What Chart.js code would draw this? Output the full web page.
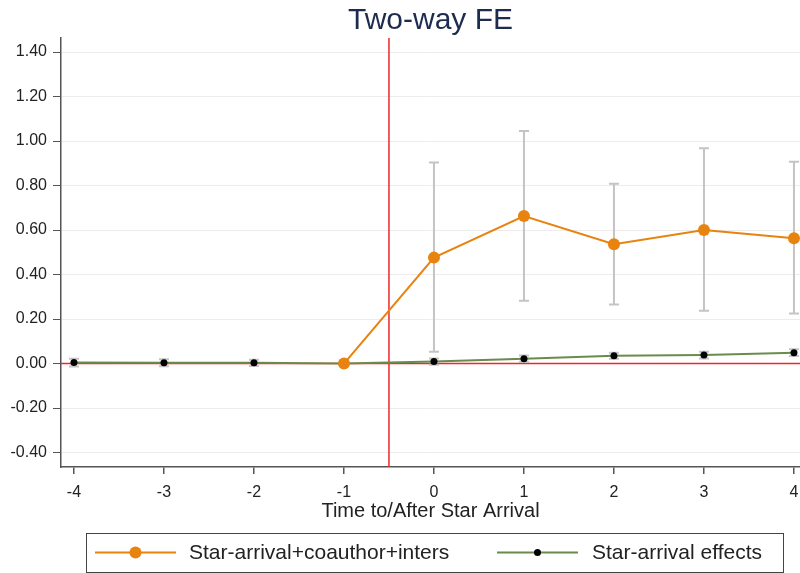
<!DOCTYPE html>
<html>
<head>
<meta charset="utf-8">
<title>Two-way FE</title>
<script src="https://cdn.jsdelivr.net/npm/chart.js@4.4.0/dist/chart.umd.min.js"></script>
<style>
    html, body { margin: 0; padding: 0; background: #fff; }
    #wrap { position: relative; width: 800px; height: 573px; }
</style>
</head>
<body>
<div id="wrap"><canvas id="chart" width="800" height="573"></canvas></div>
<script>
// event-time periods relative to star arrival
const periods = [-4, -3, -2, -1, 0, 1, 2, 3, 4];

// star-arrival + coauthor + interactions (point estimates and 95% CI)
const coauthorEst = [null, null, null, 0.000, 0.476, 0.663, 0.536, 0.600, 0.563];
const coauthorLo  = [null, null, null, null, 0.053, 0.282, 0.265, 0.237, 0.225];
const coauthorHi  = [null, null, null, null, 0.903, 1.045, 0.808, 0.967, 0.907];

// star-arrival effects only
const starEst = [0.005, 0.004, 0.003, 0.000, 0.009, 0.022, 0.035, 0.038, 0.049];
const starLo  = [-0.013, -0.012, -0.011, null, -0.005, 0.008, 0.021, 0.023, 0.034];
const starHi  = [0.022, 0.019, 0.017, null, 0.023, 0.036, 0.049, 0.053, 0.064];

const yTicks = [-0.4, -0.2, 0, 0.2, 0.4, 0.6, 0.8, 1.0, 1.2, 1.4];
const arrivalLine = -0.5;

const FONT = "'Liberation Sans', Arial, sans-serif";
const AXIS_COLOR = '#555';
const TEXT_COLOR = '#222';

const toPoints = (xs, ys) => xs.map((x, i) => ({ x: x, y: ys[i] })).filter(p => p.y !== null);

// reference lines at zero and at the arrival date, under the series
const refLines = {
    id: 'refLines',
    beforeDatasetsDraw(chart) {
        const { ctx, chartArea: a, scales: { x, y } } = chart;
        ctx.save();
        ctx.strokeStyle = '#f2262a';
        ctx.lineWidth = 1.5;
        const y0 = y.getPixelForValue(0);
        const xv = x.getPixelForValue(arrivalLine);
        ctx.beginPath();
        ctx.moveTo(a.left, y0);
        ctx.lineTo(a.right, y0);
        ctx.moveTo(xv, a.top);
        ctx.lineTo(xv, a.bottom);
        ctx.stroke();
        ctx.restore();
    }
};

// confidence intervals with caps
const errorBars = {
    id: 'errorBars',
    beforeDatasetsDraw(chart) {
        const { ctx, scales: { x, y } } = chart;
        ctx.save();
        ctx.strokeStyle = '#c4c4c4';
        ctx.lineWidth = 2;
        chart.data.datasets.forEach(ds => {
            if (!ds.errLo) return;
            periods.forEach((p, i) => {
                const lo = ds.errLo[i], hi = ds.errHi[i];
                if (lo === null || hi === null) return;
                const px = x.getPixelForValue(p);
                const yl = y.getPixelForValue(lo);
                const yh = y.getPixelForValue(hi);
                const cap = ds.capHalf;
                ctx.beginPath();
                ctx.moveTo(px, yl); ctx.lineTo(px, yh);
                ctx.moveTo(px - cap, yl); ctx.lineTo(px + cap, yl);
                ctx.moveTo(px - cap, yh); ctx.lineTo(px + cap, yh);
                ctx.stroke();
            });
        });
        ctx.restore();
    }
};

// boxed legend below the axis title
const boxLegend = {
    id: 'boxLegend',
    afterDraw(chart) {
        const { ctx } = chart;
        const box = { left: 86, top: 533, right: 783, bottom: 572 };
        const items = [
            { ds: chart.data.datasets[0], lineFrom: 95, lineTo: 176, textX: 189 },
            { ds: chart.data.datasets[1], lineFrom: 497, lineTo: 578, textX: 592 }
        ];
        const cy = 552.5;
        ctx.save();
        ctx.strokeStyle = '#444';
        ctx.lineWidth = 1;
        ctx.strokeRect(box.left + 0.5, box.top + 0.5, box.right - box.left, box.bottom - box.top);
        items.forEach(it => {
            ctx.strokeStyle = it.ds.borderColor;
            ctx.lineWidth = 2;
            ctx.beginPath();
            ctx.moveTo(it.lineFrom, cy);
            ctx.lineTo(it.lineTo, cy);
            ctx.stroke();
            ctx.fillStyle = it.ds.pointBackgroundColor;
            ctx.beginPath();
            ctx.arc((it.lineFrom + it.lineTo) / 2, cy, it.ds.pointRadius, 0, Math.PI * 2);
            ctx.fill();
            ctx.fillStyle = TEXT_COLOR;
            ctx.font = '21px ' + FONT;
            ctx.textBaseline = 'middle';
            ctx.textAlign = 'left';
            ctx.fillText(it.ds.label, it.textX, cy + 1);
        });
        ctx.restore();
    }
};

new Chart(document.getElementById('chart'), {
    type: 'line',
    data: {
        datasets: [{
            label: 'Star-arrival+coauthor+inters',
            data: toPoints(periods, coauthorEst),
            errLo: coauthorLo,
            errHi: coauthorHi,
            capHalf: 5,
            borderColor: '#e8830f',
            backgroundColor: '#e8830f',
            pointBackgroundColor: '#e8830f',
            pointBorderWidth: 0,
            pointRadius: 6,
            borderWidth: 2,
            tension: 0,
            clip: false
        }, {
            label: 'Star-arrival effects',
            data: toPoints(periods, starEst),
            errLo: starLo,
            errHi: starHi,
            capHalf: 5,
            borderColor: '#6a8c4a',
            backgroundColor: '#000',
            pointBackgroundColor: '#000',
            pointBorderWidth: 0,
            pointRadius: 3.5,
            borderWidth: 2,
            tension: 0,
            clip: false
        }]
    },
    options: {
        responsive: false,
        animation: false,
        devicePixelRatio: 1,
        layout: { autoPadding: false, padding: { left: 0, right: 0, top: 0, bottom: 46 } },
        plugins: {
            legend: { display: false },
            tooltip: { enabled: false },
            title: {
                display: true,
                fullSize: false,
                text: 'Two-way FE',
                color: '#1d2b4f',
                font: { family: FONT, size: 30, weight: 'normal', lineHeight: 1 },
                padding: { top: 6, bottom: 2 },
                align: 'center'
            }
        },
        scales: {
            x: {
                type: 'linear',
                min: -4.144,
                max: 4.067,
                afterBuildTicks: s => { s.ticks = periods.map(v => ({ value: v })); },
                afterFit: s => { s.height = 60; s.paddingLeft = 0; s.paddingRight = 0; },
                ticks: {
                    color: TEXT_COLOR,
                    font: { family: FONT, size: 16 },
                    padding: 9,
                    maxRotation: 0,
                    callback: v => String(v)
                },
                grid: { drawOnChartArea: false, drawTicks: true, tickLength: 7, tickColor: AXIS_COLOR, lineWidth: 1.5 },
                border: { color: AXIS_COLOR, width: 1.5 },
                title: {
                    display: true,
                    text: 'Time to/After Star Arrival',
                    color: TEXT_COLOR,
                    font: { family: FONT, size: 20 },
                    padding: { top: 0, bottom: 4 }
                }
            },
            y: {
                type: 'linear',
                min: -0.465,
                max: 1.463,
                afterBuildTicks: s => { s.ticks = yTicks.map(v => ({ value: v })); },
                afterFit: s => { s.width = 61; s.paddingTop = 0; s.paddingBottom = 0; },
                ticks: {
                    color: TEXT_COLOR,
                    font: { family: FONT, size: 16 },
                    padding: 6,
                    callback: v => v.toFixed(2)
                },
                grid: { color: '#ececec', lineWidth: 1, tickLength: 8, tickColor: AXIS_COLOR },
                border: { color: AXIS_COLOR, width: 1.5 }
            }
        }
    },
    plugins: [refLines, errorBars, boxLegend]
});
</script>
</body>
</html>
